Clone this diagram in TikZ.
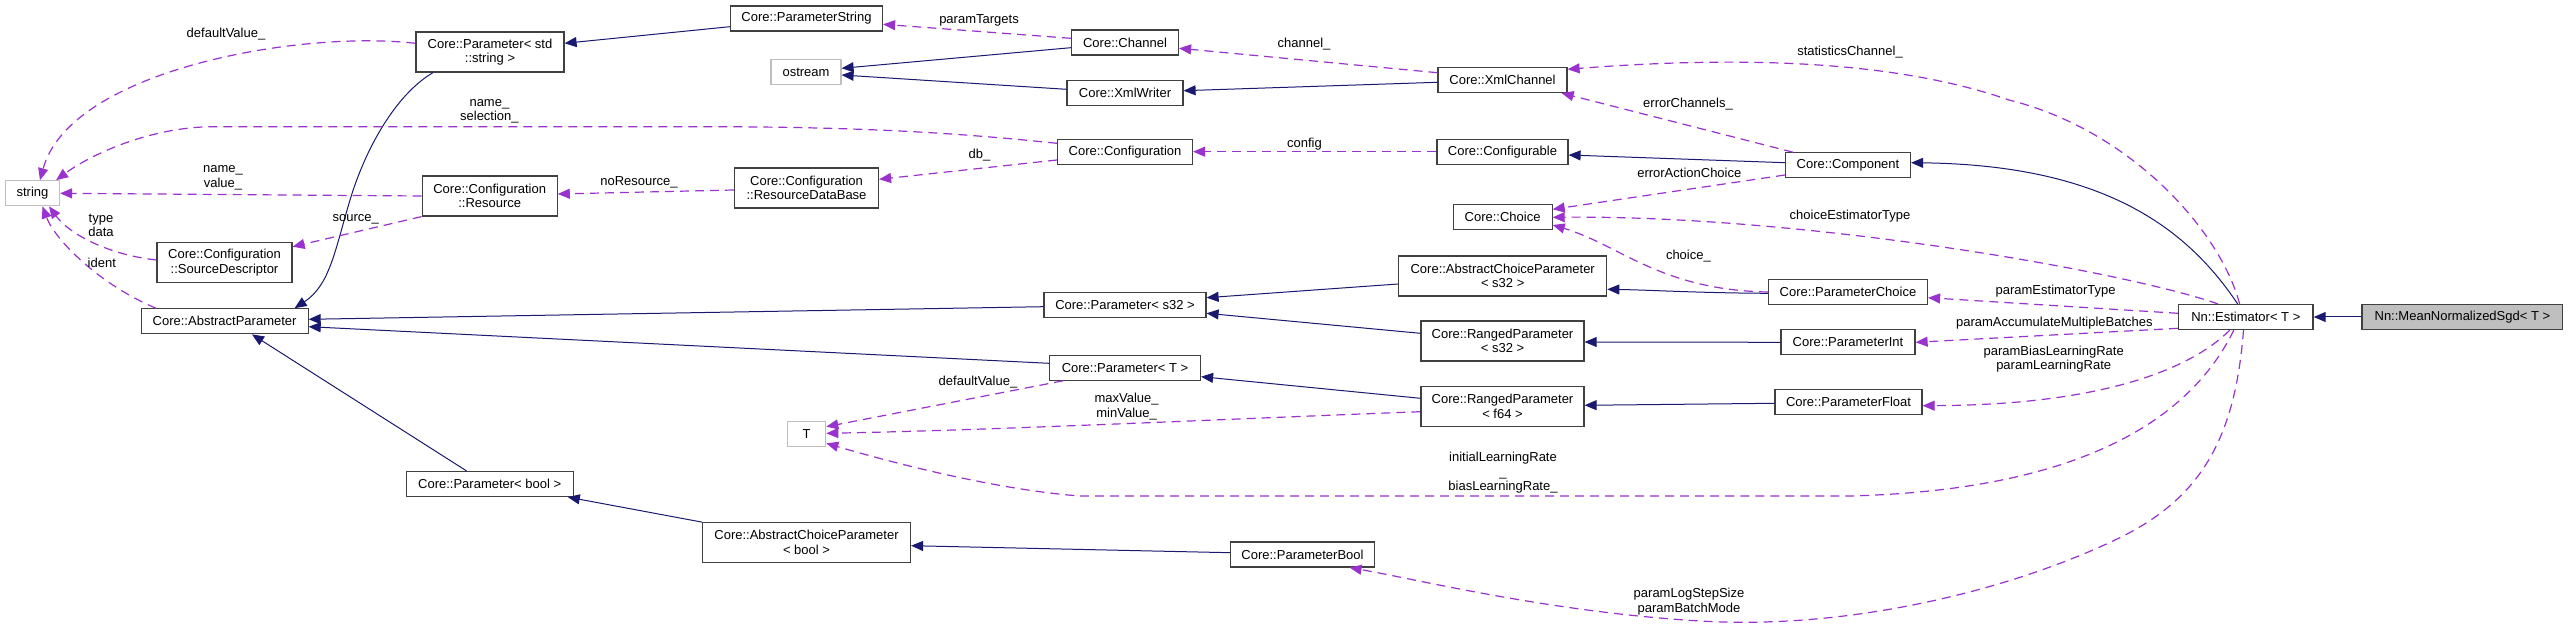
\documentclass[tikz,border=0pt]{standalone}
\usepackage{fontspec}
\setmainfont{Liberation Sans}
\usetikzlibrary{arrows.meta}
\definecolor{navy}{HTML}{191970}
\definecolor{purp}{HTML}{9A32CD}
\definecolor{bord}{HTML}{404040}
\definecolor{lgray}{HTML}{BFBFBF}
\begin{document}
\begin{tikzpicture}[x=1pt,y=-1pt,
  font=\fontsize{13}{14.7}\selectfont,
  cls/.style={draw=bord, line width=1.2pt, fill=white, inner sep=0pt, align=center, minimum height=25pt},
  twol/.style={minimum height=40pt},
  ext/.style={cls, draw=lgray},
  inh/.style={draw=navy, line width=1pt, -{Triangle[length=12pt,width=10pt]}},
  use/.style={draw=purp, line width=1.2pt, dash pattern=on 9pt off 6pt, -{Triangle[length=12pt,width=10pt]}},
  lbl/.style={inner sep=0pt, align=center}
]
\useasboundingbox (0,0) rectangle (2568,628);
\fill[white] (0,0) rectangle (2568,628);

% nodes
\node[ext, minimum width=54pt] (string) at (32.5,193.3) {string};
\node[cls, twol, minimum width=148pt] (pstr) at (490,52) {Core::Parameter< std\\::string >};
\node[cls, twol, minimum width=135pt] (res) at (489.7,196) {Core::Configuration\\::Resource};
\node[cls, twol, minimum width=135pt] (srcd) at (224.5,262.7) {Core::Configuration\\::SourceDescriptor};
\node[cls, minimum width=167pt] (absp) at (224.6,321.3) {Core::AbstractParameter};
\node[cls, minimum width=167pt] (pbool) at (489.7,484) {Core::Parameter< bool >};
\node[cls, minimum width=152pt] (pstring) at (806.5,18.5) {Core::ParameterString};
\node[ext, minimum width=70pt] (ostream) at (806,72) {ostream};
\node[cls, minimum width=107pt] (chan) at (1125,42.5) {Core::Channel};
\node[cls, minimum width=116pt] (xmlw) at (1125,93) {Core::XmlWriter};
\node[cls, minimum width=135pt] (conf) at (1125,151.7) {Core::Configuration};
\node[cls, twol, minimum width=144pt] (rdb) at (806.5,188) {Core::Configuration\\::ResourceDataBase};
\node[cls, minimum width=162pt] (ps32) at (1125,305) {Core::Parameter< s32 >};
\node[cls, minimum width=151pt] (pT) at (1125,367.7) {Core::Parameter< T >};
\node[ext, minimum width=38pt] (T) at (806.7,434.3) {T};
\node[cls, twol, minimum width=208pt] (acpb) at (806.5,542.7) {Core::AbstractChoiceParameter\\< bool >};
\node[cls, minimum width=144pt] (pbl) at (1302.5,554.5) {Core::ParameterBool};
\node[cls, minimum width=129pt] (xmlc) at (1502.5,80) {Core::XmlChannel};
\node[cls, minimum width=131pt] (cfgb) at (1502.5,151.7) {Core::Configurable};
\node[cls, minimum width=99pt] (choice) at (1502.6,217.3) {Core::Choice};
\node[cls, twol, minimum width=208pt] (acps) at (1502.7,276) {Core::AbstractChoiceParameter\\< s32 >};
\node[cls, minimum width=125pt] (comp) at (1848,165.3) {Core::Component};
\node[cls, minimum width=159pt] (pchoice) at (1848,292) {Core::ParameterChoice};
\node[cls, twol, minimum width=163pt] (rs32) at (1502.5,341) {Core::RangedParameter\\< s32 >};
\node[cls, twol, minimum width=163pt] (rf64) at (1502.5,406.7) {Core::RangedParameter\\< f64 >};
\node[cls, minimum width=134pt] (pint) at (1848,342.3) {Core::ParameterInt};
\node[cls, minimum width=147pt] (pflt) at (1848.5,402) {Core::ParameterFloat};
\node[cls, minimum width=134.5pt] (est) at (2245.8,317) {Nn::Estimator< T >};
\node[cls, minimum width=200.7pt, fill=lgray] (mns) at (2462.4,317) {Nn::MeanNormalizedSgd< T >};

% inheritance edges
\draw[inh] ([yshift=-8.2pt]pstring.west) -- ([yshift=8.7pt]pstr.east);
\draw[inh] ([xshift=-57pt]pstr.south) .. controls (395,95) and (365,150) .. (350,200) .. controls (335,250) and (330,285) .. ([xshift=70pt]absp.north);
\draw[inh] ([yshift=-5.2pt]chan.west) -- ([yshift=3.7pt]ostream.east);
\draw[inh] ([yshift=3.7pt]xmlw.west) -- ([yshift=-3pt]ostream.east);
\draw[inh] ([yshift=-2.3pt]xmlc.west) -- ([yshift=2.3pt]xmlw.east);
\draw[inh] ([yshift=2.6pt]comp.west) -- ([yshift=-3.3pt]cfgb.east);
\draw[inh] ([xshift=-8.2pt]est.north) .. controls (2185,225) and (2100,165) .. ([yshift=2.6pt]comp.east);
\draw[inh] ([yshift=-8pt]acps.west) -- ([yshift=7.3pt]ps32.east);
\draw[inh] ([yshift=7.7pt]rs32.west) -- ([yshift=-8.3pt]ps32.east);
\draw[inh] ([yshift=-1.7pt]ps32.west) -- ([yshift=2pt]absp.east);
\draw[inh] ([yshift=4.4pt]pT.west) -- ([yshift=-5.4pt]absp.east);
\draw[inh] ([yshift=8.4pt]rf64.west) -- ([yshift=-9pt]pT.east);
\draw[inh] ([yshift=-1.3pt]pchoice.west) .. controls (1700,293) and (1650,290) .. ([yshift=-13.3pt]acps.east);
\draw[inh] (pint.west) -- ([yshift=-1pt]rs32.east);
\draw[inh] ([yshift=-1.3pt]pflt.west) -- ([yshift=1.4pt]rf64.east);
\draw[inh] ([xshift=-23.2pt]pbool.north) -- ([xshift=27.4pt]absp.south);
\draw[inh] (acpb.north west) -- ([xshift=-6pt]pbool.south east);
\draw[inh] ([yshift=1.8pt]pbl.west) -- ([yshift=-3pt]acpb.east);
\draw[inh] (mns.west) -- (est.east);

% usage edges
\draw[use] ([yshift=8.7pt]pstr.west) .. controls (300,30) and (70,70) .. ([xshift=7.5pt]string.north);
\draw[use] ([yshift=8.4pt]conf.west) .. controls (950,132) and (850,126.7) .. (700,126.7) -- (214,126.7) .. controls (150,126.7) and (90,155) .. ([xshift=-4pt]string.north east);
\draw[use] (res.west) -- (string.east);
\draw[use] ([yshift=2.7pt]srcd.west) .. controls (110,255) and (70,235) .. ([xshift=16.5pt]string.south);
\draw[use] ([xshift=-68.6pt]absp.north) .. controls (100,285) and (55,240) .. ([xshift=10pt]string.south);
\draw[use] (res.south west) -- ([yshift=16pt]srcd.east);
\draw[use] ([yshift=-2pt]rdb.west) -- ([yshift=2pt]res.east);
\draw[use] ([yshift=-8.3pt]conf.west) -- ([yshift=8.7pt]rdb.east);
\draw[use] ([yshift=4.2pt]chan.west) -- ([yshift=-5.8pt]pstring.east);
\draw[use] ([yshift=7.3pt]xmlc.west) -- ([yshift=-5.8pt]chan.east);
\draw[use] (cfgb.west) -- (conf.east);
\draw[use] ([xshift=-55pt]comp.north) -- ([xshift=-6pt]xmlc.south east);
\draw[use] ([xshift=-6.2pt]est.north) .. controls (2220,230) and (2130,130) .. (2009,100) .. controls (1900,62) and (1750,55) .. ([yshift=10.7pt]xmlc.east);
\draw[use] ([yshift=-9.7pt]comp.west) -- ([yshift=8pt]choice.east);
\draw[use] ([xshift=-27.8pt]est.north) .. controls (2120,270) and (1800,215) .. (choice.east);
\draw[use] (pchoice.west) .. controls (1660,290) and (1620,245) .. ([yshift=-7.7pt]choice.east);
\draw[use] ([yshift=3.7pt]est.west) -- ([yshift=-5.7pt]pchoice.east);
\draw[use] ([yshift=-11.3pt]est.west) -- (pint.east);
\draw[use] ([xshift=-16pt]est.south) .. controls (2190,370) and (2100,405) .. ([yshift=-3.7pt]pflt.east);
\draw[use] ([xshift=-62pt]pT.south) -- ([yshift=7.6pt]T.east);
\draw[use] ([yshift=-5pt]rf64.west) .. controls (1250,418) and (1000,430) .. ([yshift=1pt]T.east);
\draw[use] ([xshift=-12pt]est.south) .. controls (2190,420) and (2080,490) .. (1850,496) -- (1080,496) .. controls (1000,490) and (900,465) .. ([yshift=-9pt]T.east);
\draw[use] ([xshift=-2.3pt]est.south) .. controls (2235,440) and (2200,500) .. (2115,540) .. controls (2010,590) and (1850,630) .. (1700,621) .. controls (1550,612) and (1420,580) .. ([xshift=-25.5pt]pbl.south east);

% labels
\node[lbl] (la) at (226,34.3) {defaultValue\_};
\node[lbl] (lb) at (489.4,111.3) {name\_\\selection\_};
\node[lbl] (lc) at (223,177.7) {name\_\\value\_};
\node[lbl] (ld) at (101,225.5) {type\\data};
\node[lbl] (le) at (101.8,263.3) {ident};
\node[lbl] (lf) at (355.8,219) {source\_};
\node[lbl] (lg) at (639,182.7) {noResource\_};
\node[lbl] (lh) at (979.5,155.3) {db\_};
\node[lbl] (li) at (979,20) {paramTargets};
\node[lbl] (lj) at (1304,44.3) {channel\_};
\node[lbl] (lk) at (1304.5,144) {config};
\node[lbl] (ll) at (1688,104) {errorChannels\_};
\node[lbl] (lm) at (1850,52.3) {statisticsChannel\_};
\node[lbl] (ln) at (1689.3,172.7) {errorActionChoice};
\node[lbl] (lo) at (1850,215.7) {choiceEstimatorType};
\node[lbl] (lp) at (1688.4,256) {choice\_};
\node[lbl] (lq) at (2055.6,290.7) {paramEstimatorType};
\node[lbl] (lr) at (2054.4,322.7) {paramAccumulateMultipleBatches};
\node[lbl] (ls) at (2053.7,359.2) {paramBiasLearningRate\\paramLearningRate};
\node[lbl] (lt) at (978,382.3) {defaultValue\_};
\node[lbl] (lu) at (1126.6,406.8) {maxValue\_\\minValue\_};
\node[lbl] (lv) at (1503,472.7) {initialLearningRate\\\_\\biasLearningRate\_};
\node[lbl] (lw) at (1689,601.7) {paramLogStepSize\\paramBatchMode};
\end{tikzpicture}
\end{document}
